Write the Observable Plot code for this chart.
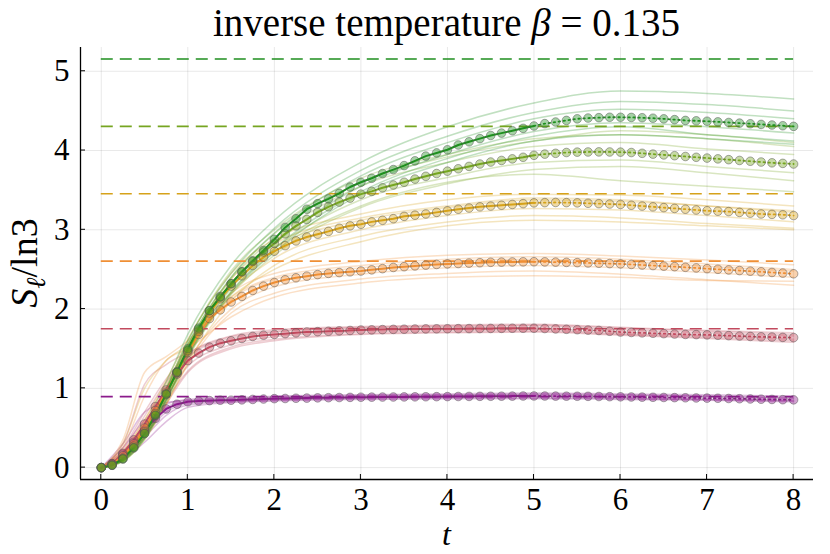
<!DOCTYPE html>
<html><head><meta charset="utf-8">
<script src="https://cdn.jsdelivr.net/npm/d3@7"></script>
<script src="https://cdn.jsdelivr.net/npm/@observablehq/plot@0.6"></script>
<style>body{margin:0;background:#fff} #chart{width:830px;height:554px}</style>
</head><body><div id="chart"></div>
<script>
const tGrid = [0,0.125,0.25,0.375,0.5,0.625,0.75,0.875,1,1.125,1.25,1.375,1.5,1.625,1.75,1.875,2,2.125,2.25,2.375,2.5,2.625,2.75,2.875,3,3.125,3.25,3.375,3.5,3.625,3.75,3.875,4,4.125,4.25,4.375,4.5,4.625,4.75,4.875,5,5.125,5.25,5.375,5.5,5.625,5.75,5.875,6,6.125,6.25,6.375,6.5,6.625,6.75,6.875,7,7.125,7.25,7.375,7.5,7.625,7.75,7.875,8];
const meanPurple = [0,0.05,0.17,0.32,0.47,0.62,0.74,0.80, 0.83,0.84,0.845,0.85,0.85,0.855,0.86,0.865, 0.87,0.872,0.875,0.877,0.88,0.882,0.884,0.886, 0.888,0.889,0.89,0.891,0.892,0.893,0.894,0.895, 0.896,0.897,0.898,0.899,0.9,0.901,0.902,0.903, 0.904,0.903,0.902,0.901,0.9,0.899,0.897,0.895, 0.893,0.891,0.889,0.887,0.885,0.883,0.881,0.879, 0.877,0.875,0.872,0.869,0.866,0.863,0.86,0.857, 0.855];
const meanRed = [0,0.05,0.18,0.35,0.55,0.77,0.98,1.18, 1.35,1.445,1.52,1.57,1.60,1.63,1.655,1.67, 1.68,1.69,1.70,1.71,1.715,1.72,1.725,1.73, 1.735,1.738,1.741,1.744,1.746,1.748,1.75,1.751, 1.752,1.753,1.754,1.755,1.756,1.757,1.758,1.758, 1.758,1.755,1.75,1.745,1.74,1.735,1.73,1.72, 1.71,1.705,1.70,1.695,1.69,1.685,1.68,1.678, 1.675,1.67,1.665,1.66,1.655,1.65,1.647,1.643, 1.64];
const meanOrange = [0,0.04,0.15,0.30,0.50,0.72,0.95,1.20, 1.45,1.68,1.88,1.99,2.09,2.16,2.235,2.29, 2.335,2.37,2.395,2.415,2.435,2.45,2.46,2.47, 2.48,2.495,2.51,2.525,2.535,2.545,2.555,2.563, 2.57,2.575,2.58,2.585,2.59,2.592,2.594,2.596, 2.597,2.595,2.592,2.589,2.586,2.582,2.578,2.574, 2.57,2.563,2.556,2.549,2.542,2.535,2.527,2.519, 2.51,2.502,2.494,2.486,2.478,2.47,2.462,2.454, 2.445];
const meanYellow = [0,0.03,0.12,0.27,0.45,0.68,0.93,1.20, 1.47,1.72,1.95,2.13,2.29,2.42,2.55,2.655, 2.73,2.80,2.86,2.91,2.945,2.98,3.02,3.05, 3.07,3.10,3.12,3.14,3.17,3.185,3.20,3.22, 3.24,3.26,3.275,3.29,3.30,3.31,3.32,3.33, 3.34,3.343,3.345,3.343,3.34,3.335,3.33,3.325, 3.32,3.31,3.30,3.29,3.28,3.27,3.26,3.25, 3.24,3.235,3.23,3.22,3.21,3.20,3.195,3.19, 3.18];
const meanOlive = [0,0.03,0.11,0.25,0.43,0.66,0.92,1.20, 1.48,1.74,1.98,2.16,2.32,2.47,2.60,2.72, 2.83,2.95,3.05,3.13,3.22,3.29,3.35,3.40, 3.45,3.485,3.53,3.565,3.60,3.64,3.675,3.71, 3.74,3.77,3.80,3.83,3.855,3.875,3.895,3.915, 3.94,3.955,3.965,3.975,3.98,3.982,3.983,3.982, 3.98,3.975,3.965,3.955,3.945,3.935,3.925,3.915, 3.905,3.895,3.885,3.875,3.865,3.855,3.845,3.838, 3.83];
const meanGreen = [0,0.03,0.11,0.25,0.43,0.66,0.93,1.21, 1.50,1.76,1.98,2.15,2.32,2.47,2.61,2.74, 2.88,3.03,3.14,3.26,3.33,3.39,3.46,3.54, 3.60,3.65,3.71,3.76,3.81,3.87,3.93,3.97, 4.01,4.07,4.11,4.15,4.19,4.22,4.25,4.28, 4.31,4.34,4.36,4.38,4.40,4.41,4.415,4.42, 4.42,4.418,4.414,4.408,4.40,4.39,4.38,4.375, 4.37,4.362,4.354,4.346,4.338,4.33,4.322,4.313, 4.305];

const sampleT = [0,0.25,0.5,0.75,1,1.5,2,3,4,5,6,7,8];
const samplesPurple = [
 [0,0.25,0.6,0.8,0.86,0.88,0.9,0.92,0.93,0.94,0.93,0.92,0.9],
 [0,0.12,0.38,0.66,0.79,0.83,0.85,0.87,0.88,0.88,0.87,0.86,0.84],
 [0,0.3,0.7,0.82,0.85,0.87,0.88,0.91,0.92,0.92,0.91,0.9,0.88],
 [0,0.1,0.32,0.58,0.76,0.82,0.84,0.86,0.87,0.87,0.86,0.85,0.83],
 [0,0.2,0.5,0.76,0.84,0.86,0.89,0.9,0.91,0.93,0.92,0.9,0.87],
 [0,0.15,0.42,0.7,0.81,0.84,0.86,0.88,0.9,0.9,0.88,0.86,0.85]];
const samplesRed = [
 [0,0.3,1.05,1.3,1.45,1.65,1.72,1.77,1.79,1.8,1.76,1.72,1.68],
 [0,0.12,0.42,0.85,1.22,1.52,1.62,1.69,1.71,1.72,1.68,1.64,1.6],
 [0,0.22,0.65,1.08,1.4,1.63,1.71,1.76,1.78,1.79,1.74,1.7,1.66],
 [0,0.14,0.48,0.9,1.28,1.55,1.65,1.71,1.73,1.74,1.69,1.66,1.62],
 [0,0.25,0.7,1.12,1.42,1.66,1.74,1.78,1.8,1.81,1.77,1.73,1.7],
 [0,0.1,0.38,0.8,1.2,1.5,1.6,1.68,1.7,1.71,1.67,1.63,1.58]];
const samplesOrange = [
 [0,0.35,1.2,1.4,1.6,2.15,2.4,2.55,2.63,2.66,2.63,2.57,2.5],
 [0,0.1,0.4,0.8,1.3,1.95,2.2,2.38,2.45,2.48,2.44,2.37,2.3],
 [0,0.2,0.6,1.05,1.55,2.2,2.45,2.6,2.68,2.7,2.67,2.62,2.56],
 [0,0.12,0.45,0.88,1.35,2.0,2.28,2.44,2.52,2.55,2.52,2.46,2.4],
 [0,0.25,0.9,1.35,1.5,1.9,2.15,2.33,2.4,2.42,2.4,2.36,2.35],
 [0,0.16,0.52,1.0,1.5,2.12,2.38,2.52,2.6,2.63,2.6,2.54,2.48]];
const samplesYellow = [
 [0,0.2,0.6,1.1,1.62,2.45,2.88,3.2,3.38,3.45,3.44,3.38,3.3],
 [0,0.08,0.35,0.8,1.32,2.1,2.55,2.92,3.1,3.18,3.15,3.08,3.02],
 [0,0.15,0.5,1.0,1.55,2.38,2.82,3.15,3.3,3.4,3.38,3.3,3.24],
 [0,0.1,0.4,0.86,1.4,2.2,2.64,3.0,3.18,3.27,3.25,3.18,3.1],
 [0,0.3,1.0,1.35,1.55,2.15,2.5,2.85,3.05,3.12,3.1,3.05,3.0],
 [0,0.12,0.46,0.95,1.5,2.33,2.78,3.12,3.28,3.38,3.36,3.3,3.22]];
const samplesOlive = [
 [0,0.15,0.52,1.02,1.6,2.48,3.0,3.65,3.95,4.15,4.2,4.15,4.05],
 [0,0.08,0.36,0.82,1.38,2.18,2.68,3.28,3.58,3.76,3.8,3.72,3.62],
 [0,0.12,0.46,0.96,1.52,2.38,2.9,3.55,3.85,4.05,4.1,4.02,3.95],
 [0,0.1,0.4,0.88,1.44,2.26,2.76,3.38,3.66,3.85,3.88,3.8,3.72],
 [0,0.13,0.48,0.98,1.55,2.4,2.95,3.6,3.92,4.12,4.25,4.2,4.1],
 [0,0.09,0.38,0.86,1.42,2.22,2.72,3.3,3.6,3.7,3.62,3.55,3.48]];
const samplesGreen = [
 [0,0.15,0.55,1.08,1.68,2.55,3.12,3.85,4.3,4.6,4.75,4.72,4.65],
 [0,0.08,0.36,0.84,1.4,2.2,2.72,3.45,3.85,4.12,4.2,4.15,4.08],
 [0,0.13,0.5,1.0,1.6,2.45,3.02,3.75,4.18,4.48,4.62,4.58,4.5],
 [0,0.1,0.4,0.9,1.46,2.28,2.82,3.55,3.95,4.24,4.35,4.3,4.22],
 [0,0.12,0.47,0.98,1.56,2.4,2.96,3.68,4.1,4.4,4.52,4.48,4.4],
 [0,0.09,0.38,0.86,1.42,2.22,2.76,3.48,3.9,4.18,4.3,4.2,4.12]];

const saturation = [0.895, 1.752, 2.605, 3.455, 4.305, 5.155];
const seriesNames = ["l1","l2","l3","l4","l5","l6"];
const seriesColors = ["#8b1a8b","#c24a5e","#ef8f35","#d6a21a","#76a521","#1f8f1f"];
const xTicks = [0,1,2,3,4,5,6,7,8];
const yTicks = [0,1,2,3,4,5];
const xDomain = [-0.24, 8.23];
const yDomain = [-0.15, 5.30];
const tSplit = 5;

const means = [meanPurple, meanRed, meanOrange, meanYellow, meanOlive, meanGreen];
const samples = [samplesPurple, samplesRed, samplesOrange, samplesYellow, samplesOlive, samplesGreen];

const meanRows = [];
means.forEach((arr, k) => arr.forEach((v, i) => meanRows.push({s: seriesNames[k], t: tGrid[i], v})));
const sampleRows = [];
samples.forEach((set, k) => set.forEach((arr, j) => arr.forEach((v, i) => sampleRows.push({s: seriesNames[k], id: k + "-" + j, t: sampleT[i], v}))));
const satRows = saturation.map((v, k) => ({s: seriesNames[k], v}));

const FONT = "Liberation Serif";
const chart = Plot.plot({
  width: 830, height: 554,
  marginLeft: 80, marginRight: 17, marginTop: 47, marginBottom: 75,
  style: {fontFamily: FONT, fontSize: "31px", background: "#fff", color: "#000"},
  x: {domain: xDomain},
  y: {domain: yDomain},
  color: {domain: seriesNames, range: seriesColors},
  marks: [
    Plot.gridX(xTicks, {stroke: "#000", strokeOpacity: 0.09, strokeWidth: 1}),
    Plot.gridY(yTicks, {stroke: "#000", strokeOpacity: 0.09, strokeWidth: 1}),
    Plot.line(sampleRows, {x: "t", y: "v", z: "id", stroke: "s", strokeOpacity: 0.28, strokeWidth: 1.5, curve: "monotone-x"}),
    Plot.ruleY(satRows, {y: "v", x1: xTicks[0], x2: xTicks[xTicks.length - 1], stroke: "s", strokeWidth: 1.6, strokeDasharray: "12,7"}),
    Plot.line(meanRows.filter(d => d.t <= tSplit), {x: "t", y: "v", z: "s", stroke: "s", strokeWidth: 2}),
    Plot.line(meanRows.filter(d => d.t >= tSplit), {x: "t", y: "v", z: "s", stroke: "s", strokeWidth: 1.8, strokeDasharray: "1.5,3.5"}),
    Plot.dot(meanRows, {x: "t", y: "v", fill: "s", fillOpacity: 0.4, stroke: "#555", strokeOpacity: 0.5, strokeWidth: 1, r: 4.3}),
    Plot.ruleX([xDomain[0]], {stroke: "#000", strokeWidth: 1.3}),
    Plot.ruleY([yDomain[0]], {stroke: "#000", strokeWidth: 1.3}),
    Plot.axisX(xTicks, {tickSize: 0, tickPadding: 8, label: null, fontSize: 31, tickFormat: d3.format("d")}),
    Plot.axisY(yTicks, {tickSize: 0, tickPadding: 11, label: null, fontSize: 31, tickFormat: d3.format("d")})
  ]
});
document.getElementById("chart").appendChild(chart);

const svg = d3.select(chart);
const sx = chart.scale("x"), sy = chart.scale("y");
const x0 = sx.apply(xDomain[0]), y0 = sy.apply(yDomain[0]);
xTicks.forEach(t => svg.append("line").attr("x1", sx.apply(t)).attr("x2", sx.apply(t)).attr("y1", y0).attr("y2", y0 - 5).attr("stroke", "#000").attr("stroke-width", 1));
yTicks.forEach(v => svg.append("line").attr("y1", sy.apply(v)).attr("y2", sy.apply(v)).attr("x1", x0).attr("x2", x0 + 5).attr("stroke", "#000").attr("stroke-width", 1));

const cx = (sx.apply(xDomain[0]) + sx.apply(xDomain[1])) / 2;
const title = svg.append("text").attr("x", cx).attr("y", 36).attr("text-anchor", "middle")
  .attr("font-family", FONT).attr("font-size", 39).attr("fill", "#000");
title.append("tspan").text("inverse temperature ");
title.append("tspan").attr("font-style", "italic").text("β");
title.append("tspan").text(" = 0.135");

const cy = (sy.apply(yDomain[0]) + sy.apply(yDomain[1])) / 2;
const ylab = svg.append("text").attr("transform", `translate(37,${cy}) rotate(-90)`).attr("text-anchor", "middle")
  .attr("font-family", FONT).attr("font-size", 38).attr("fill", "#000");
ylab.append("tspan").attr("font-style", "italic").text("S");
ylab.append("tspan").attr("font-style", "italic").attr("font-size", 27).attr("dy", 8).text("ℓ");
ylab.append("tspan").attr("dy", -8).text("/ln3");

svg.append("text").attr("x", cx).attr("y", 545).attr("text-anchor", "middle")
  .attr("font-family", FONT).attr("font-size", 32).attr("font-style", "italic").attr("fill", "#000").text("t");
</script>
</body></html>
